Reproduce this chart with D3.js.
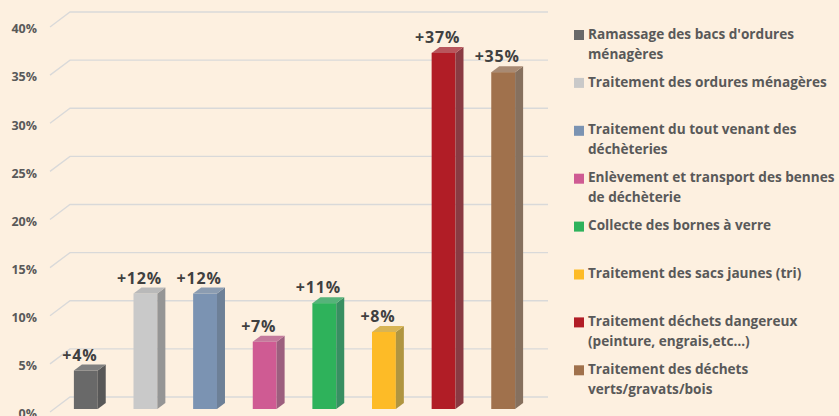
<!DOCTYPE html>
<html>
<head>
<meta charset="utf-8">
<script src="https://cdn.jsdelivr.net/npm/d3@7"></script>
<style>
  html, body { margin: 0; padding: 0; background: #fdf0e0; }
  svg { display: block; font-family: "Open Sans", Lato, sans-serif; }
</style>
</head>
<body>
<svg id="chart" width="839" height="416"></svg>
<script>
var categories = ["Ramassage des bacs d'ordures ménagères", "Traitement des ordures ménagères",
  "Traitement du tout venant des déchèteries", "Enlèvement et transport des bennes de déchèterie",
  "Collecte des bornes à verre", "Traitement des sacs jaunes (tri)",
  "Traitement déchets dangereux (peinture, engrais,etc…)", "Traitement des déchets verts/gravats/bois"]
var legendLines = [["Ramassage des bacs d'ordures", "ménagères"], ["Traitement des ordures ménagères"],
  ["Traitement du tout venant des", "déchèteries"], ["Enlèvement et transport des bennes", "de déchèterie"],
  ["Collecte des bornes à verre"], ["Traitement des sacs jaunes (tri)"],
  ["Traitement déchets dangereux", "(peinture, engrais,etc…)"], ["Traitement des déchets", "verts/gravats/bois"]]
var values = [4, 12, 12, 7, 11, 8, 37, 35]
var valueLabels = ["+4%", "+12%", "+12%", "+7%", "+11%", "+8%", "+37%", "+35%"]
var ticks = [0, 5, 10, 15, 20, 25, 30, 35, 40]

// front, side, top colours for each bar
var fronts = ["#696969", "#c9c9c9", "#7b93b2", "#cf5b93", "#2eb25b", "#fdbb27", "#b11d26", "#a0714c"]
var sides = ["#585858", "#959595", "#6d8097", "#9c5f7e", "#388f62", "#b09540", "#8a3a42", "#86705e"]
var tops = ["#808080", "#b9b9b9", "#8b9cb1", "#c47a9c", "#56b37a", "#d8b455", "#b8565c", "#a88a73"]

var svg = d3.select("#chart")

var y = d3.scaleLinear().domain([0, 40]).range([409, 24])
var x = d3.scaleBand().domain(categories).range([56, 533]).paddingInner(0.6).paddingOuter(0.3)

var dx = 8, dy = 6  // bar depth

// grid: front diagonal + back wall line
var grid = svg.append("g")
grid.selectAll("path").data(ticks).enter().append("path")
  .attr("d", function(d) {
    var yy = y(d)
    return "M50," + (yy + 3) + "L70," + (yy - 12) + "L548," + (yy - 12)
  })
  .attr("fill", "none")
  .attr("stroke", "#d9d9d9")
  .attr("stroke-width", 1.3)

svg.append("g").selectAll("text").data(ticks).enter().append("text")
  .attr("x", 37)
  .attr("y", function(d) { return y(d) + 6 })
  .attr("text-anchor", "end")
  .attr("dominant-baseline", "middle")
  .attr("font-size", 12.5)
  .attr("font-weight", "bold")
  .attr("fill", "#595959")
  .text(function(d) { return d + "%" })

var bars = svg.append("g").selectAll("g").data(categories).enter().append("g")

bars.append("rect")
  .attr("x", function(d) { return x(d) })
  .attr("y", function(d, i) { return y(values[i]) })
  .attr("width", x.bandwidth())
  .attr("height", function(d, i) { return y(0) - y(values[i]) })
  .attr("fill", function(d, i) { return fronts[i] })

bars.append("path")
  .attr("d", function(d, i) {
    var x1 = x(d) + x.bandwidth(), yt = y(values[i]), yb = y(0)
    return "M" + x1 + "," + yt + "L" + (x1 + dx) + "," + (yt - dy) + "L" + (x1 + dx) + "," + (yb - dy) + "L" + x1 + "," + yb + "Z"
  })
  .attr("fill", function(d, i) { return sides[i] })

bars.append("path")
  .attr("d", function(d, i) {
    var x0 = x(d), x1 = x0 + x.bandwidth(), yt = y(values[i])
    return "M" + x0 + "," + yt + "L" + (x0 + dx) + "," + (yt - dy) + "L" + (x1 + dx) + "," + (yt - dy) + "L" + x1 + "," + yt + "Z"
  })
  .attr("fill", function(d, i) { return tops[i] })

bars.append("text")
  .attr("x", function(d) { return x(d) + x.bandwidth() / 2 - 6 })
  .attr("y", function(d, i) { return y(values[i]) - 10 })
  .attr("text-anchor", "middle")
  .attr("font-size", 16)
  .attr("font-weight", "bold")
  .attr("letter-spacing", 0.8)
  .attr("fill", "#404040")
  .text(function(d, i) { return valueLabels[i] })

// legend
var legend = svg.append("g").selectAll("g").data(categories).enter().append("g")
  .attr("transform", function(d, i) { return "translate(574," + (35 + i * 47.9) + ")" })

legend.append("rect")
  .attr("x", 0).attr("y", -5).attr("width", 10).attr("height", 10)
  .attr("fill", function(d, i) { return fronts[i] })

legend.append("text")
  .attr("font-size", 13.6)
  .attr("font-weight", "bold")
  .attr("fill", "#595959")
  .selectAll("tspan").data(function(d, i) { return legendLines[i] }).enter().append("tspan")
  .attr("x", 14)
  .attr("y", function(d, j) { return j * 20 })
  .attr("dominant-baseline", "middle")
  .text(function(d) { return d })
</script>
</body>
</html>
